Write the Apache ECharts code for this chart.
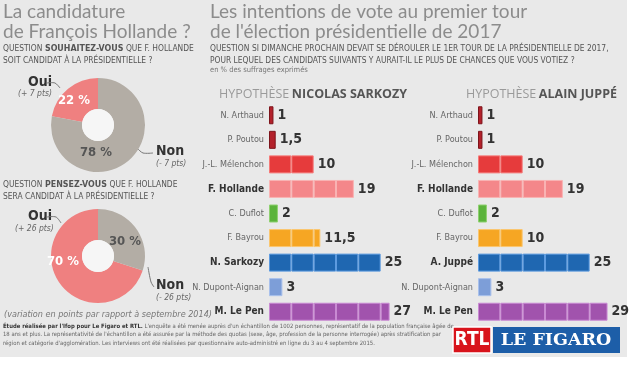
<!DOCTYPE html>
<html><head><meta charset="utf-8">
<script src="https://cdn.jsdelivr.net/npm/echarts@6/dist/echarts.min.js"></script>
<style>html,body{margin:0;padding:0;background:#fff}#c{width:640px;height:368px}</style>
</head><body><div id="c"></div>
<script>
// ---- data ----
const pieLabels = ['Oui', 'Non'];
const pie1Values = [22, 78];
const pie1Var = ['(+ 7 pts)', '(- 7 pts)'];
const pie2Values = [70, 30];
const pie2Var = ['(+ 26 pts)', '(- 26 pts)'];
const candidatesA = ['N. Arthaud', 'P. Poutou', 'J.-L. Mélenchon', 'F. Hollande', 'C. Duflot', 'F. Bayrou', 'N. Sarkozy', 'N. Dupont-Aignan', 'M. Le Pen'];
const valuesA = [1, 1.5, 10, 19, 2, 11.5, 25, 3, 27];
const candidatesB = ['N. Arthaud', 'P. Poutou', 'J.-L. Mélenchon', 'F. Hollande', 'C. Duflot', 'F. Bayrou', 'A. Juppé', 'N. Dupont-Aignan', 'M. Le Pen'];
const valuesB = [1, 1, 10, 19, 2, 10, 25, 3, 29];
const boldNames = ['F. Hollande', 'N. Sarkozy', 'A. Juppé', 'M. Le Pen'];

// ---- styles ----
const rowColors = ['#b3212b', '#b3212b', '#e63b3c', '#f4878a', '#5bb33b', '#f6a623', '#1f67b1', '#7d9ed8', '#a153ad'];
const rowBorders = ['#7d141b', '#7d141b', '#f57a78', '#f9b3b3', '#8fd071', '#fac66f', '#5d9be0', '#a8c0ec', '#c98ad3'];
const PINK = '#ef8080', GREY = '#b3ada5';
const NARROW = '"Liberation Sans Narrow","DejaVu Sans Condensed",sans-serif';
const TITLE = 'Lato, "Open Sans", sans-serif';

const chart = echarts.init(document.getElementById('c'), null, {renderer: 'canvas'});

function fmt(v) { return String(v).replace('.', ','); }

function chunkSeries(values, gi) {
  const out = [];
  const n = Math.ceil(Math.max(...values) / 5);
  for (let k = 0; k < n; k++) {
    out.push({
      type: 'bar', xAxisIndex: gi, yAxisIndex: gi, stack: 's' + gi, barWidth: 18, silent: true,
      data: values.map((v, i) => {
        const c = Math.max(0, Math.min(5, v - 5 * k));
        return c > 0 ? {value: c, itemStyle: {color: rowColors[i], borderColor: rowBorders[i], borderWidth: 1}} : '-';
      })
    });
  }
  out.push({
    type: 'bar', xAxisIndex: gi, yAxisIndex: gi, barWidth: 18, barGap: '-100%', silent: true, z: 1,
    itemStyle: {color: 'rgba(0,0,0,0)'},
    label: {show: true, position: 'right', distance: 4, formatter: p => fmt(p.value),
      fontFamily: NARROW, fontWeight: 'bold', fontSize: 14, color: '#333'},
    data: values
  });
  return out;
}

function catAxis(names, gi) {
  return {
    type: 'category', gridIndex: gi, data: names, inverse: true,
    axisLine: {show: false}, axisTick: {show: false},
    axisLabel: {
      margin: 5, fontFamily: NARROW, fontSize: 9, color: '#666',
      formatter: v => boldNames.includes(v) ? '{b|' + v + '}' : v,
      rich: {b: {fontFamily: NARROW, fontSize: 10, fontWeight: 'bold', color: '#333'}}
    }
  };
}
function valAxis(gi) {
  return {type: 'value', gridIndex: gi, min: 0, max: 30, show: false, splitLine: {show: false}};
}

function pieSeries(values, center, labelPos) {
  return [{
    type: 'pie', center: center, radius: [16, 47], startAngle: 90, clockwise: false, silent: true,
    data: values.map((v, i) => ({name: pieLabels[i], value: v,
      itemStyle: {color: i === 0 ? PINK : GREY},
      label: {color: i === 0 ? '#fff' : '#555'}})),
    label: {show: true, position: 'inside', formatter: p => p.value + ' %',
      fontFamily: NARROW, fontSize: 13, fontWeight: 'bold'},
    labelLayout: p => ({x: labelPos[p.dataIndex][0], y: labelPos[p.dataIndex][1], align: 'center', verticalAlign: 'middle'}),
    labelLine: {show: false}
  }, {
    type: 'pie', center: center, radius: [0, 16], silent: true, label: {show: false},
    data: [{value: 1, itemStyle: {color: '#f6f6f6'}}]
  }];
}

function txt(x, y, t, style) {
  return {type: 'text', left: x, top: y, silent: true, style: Object.assign({text: t, fill: '#555', fontFamily: NARROW, fontSize: 9}, style)};
}
function line(points) {
  return {type: 'polyline', silent: true, shape: {points: points, smooth: 0.3}, style: {stroke: '#777', lineWidth: 1, fill: null}};
}

const qRich = {
  q: {fontFamily: NARROW, fontSize: 8.4, color: '#8a8a8a'},
  b: {fontFamily: NARROW, fontSize: 8.8, fontWeight: 'bold', color: '#222'},
  n: {fontFamily: NARROW, fontSize: 8.4, color: '#444'}
};
const hRich = {
  h: {fontFamily: '"Open Sans",sans-serif', fontSize: 12.5, fill: '#9a9a9a'},
  n: {fontFamily: '"Open Sans",sans-serif', fontSize: 12.5, fontWeight: 'bold', fill: '#555'}
};

const option = {
  animation: false,
  backgroundColor: '#ffffff',
  graphic: [
    {type: 'rect', shape: {x: 0, y: 0, width: 627, height: 357}, style: {fill: '#e9e9e9'}, z: -10, silent: true},
    // Left titles
    txt(3, 2, 'La candidature\nde François Hollande ?', {fontFamily: TITLE, fontSize: 19, fill: '#8c8c8c', lineHeight: 20}),
    txt(3, 43, '{q|QUESTION} {b|SOUHAITEZ-VOUS} {n|QUE F. HOLLANDE}\n{n|SOIT CANDIDAT À LA PRÉSIDENTIELLE ?}', {rich: qRich, lineHeight: 12}),
    txt(3, 179, '{q|QUESTION} {b|PENSEZ-VOUS} {n|QUE F. HOLLANDE}\n{n|SERA CANDIDAT À LA PRÉSIDENTIELLE ?}', {rich: qRich, lineHeight: 12}),
    // pie 1 legends
    txt(28, 75, pieLabels[0], {fontSize: 14, fontWeight: 'bold', fill: '#333'}),
    txt(18, 89, pie1Var[0], {fontSize: 8.5, fontStyle: 'italic', fill: '#666'}),
    line([[47, 83], [55, 83], [60, 88]]),
    txt(156, 144, pieLabels[1], {fontSize: 14, fontWeight: 'bold', fill: '#333'}),
    txt(156, 159, pie1Var[1], {fontSize: 8.5, fontStyle: 'italic', fill: '#666'}),
    line([[138, 149], [143, 153], [153, 153]]),
    // pie 2 legends
    txt(28, 209, pieLabels[0], {fontSize: 14, fontWeight: 'bold', fill: '#333'}),
    txt(15, 224, pie2Var[0], {fontSize: 8.5, fontStyle: 'italic', fill: '#666'}),
    line([[47, 217], [56, 217], [61, 223]]),
    txt(156, 278, pieLabels[1], {fontSize: 14, fontWeight: 'bold', fill: '#333'}),
    txt(156, 293, pie2Var[1], {fontSize: 8.5, fontStyle: 'italic', fill: '#666'}),
    line([[148, 267], [151, 282], [154, 287]]),
    // Footer left
    txt(4, 310, '(variation en points par rapport à septembre 2014)', {fontSize: 9, fontStyle: 'italic', fill: '#777'}),
    txt(3, 322, "{b|Étude réalisée par l'Ifop pour Le Figaro et RTL.} L'enquête a été menée auprès d'un échantillon de 1002 personnes, représentatif de la population française âgée de\n18 ans et plus. La représentativité de l'échantillon a été assurée par la méthode des quotas (sexe, âge, profession de la personne interrogée) après stratification par\nrégion et catégorie d'agglomération. Les interviews ont été réalisées par questionnaire auto-administré en ligne du 3 au 4 septembre 2015.",
      {fontSize: 5.9, fill: '#666', lineHeight: 8.5, rich: {b: {fontFamily: NARROW, fontSize: 5.9, fontWeight: 'bold', fill: '#333'}}}),
    // Right titles
    txt(210, 2, "Les intentions de vote au premier tour\nde l'élection présidentielle de 2017", {fontFamily: TITLE, fontSize: 19, fill: '#8c8c8c', lineHeight: 20}),
    txt(210, 43, '{q|QUESTION} {n|SI DIMANCHE PROCHAIN DEVAIT SE DÉROULER LE 1ER TOUR DE LA PRÉSIDENTIELLE DE 2017,}\n{n|POUR LEQUEL DES CANDIDATS SUIVANTS Y AURAIT-IL LE PLUS DE CHANCES QUE VOUS VOTIEZ ?}', {rich: qRich, lineHeight: 12}),
    txt(210, 66, 'en % des suffrages exprimés', {fontSize: 7.5, fill: '#777'}),
    txt(219, 88, '{h|HYPOTHÈSE} {n|NICOLAS SARKOZY}', {rich: hRich}),
    txt(466, 88, '{h|HYPOTHÈSE} {n|ALAIN JUPPÉ}', {rich: hRich}),
    // logos
    {type: 'rect', silent: true, shape: {x: 453, y: 327, width: 38, height: 26}, style: {fill: '#d8141c', stroke: '#fff', lineWidth: 1.5}},
    {type: 'text', silent: true, x: 472, y: 340, style: {text: 'RTL', fill: '#fff', fontFamily: NARROW, fontWeight: 'bold', fontSize: 19, align: 'center', verticalAlign: 'middle'}},
    {type: 'rect', silent: true, shape: {x: 493, y: 327, width: 127, height: 26}, style: {fill: '#1d5ea8'}},
    {type: 'text', silent: true, x: 556, y: 340, style: {text: 'LE FIGARO', fill: '#fff', fontFamily: '"DejaVu Serif",serif', fontWeight: 'bold', fontSize: 17.5, align: 'center', verticalAlign: 'middle'}}
  ],
  grid: [
    {left: 269, top: 103, width: 134, height: 221},
    {left: 478, top: 103, width: 134, height: 221}
  ],
  xAxis: [valAxis(0), valAxis(1)],
  yAxis: [catAxis(candidatesA, 0), catAxis(candidatesB, 1)],
  series: [
    ...pieSeries(pie1Values, [98, 125], [[74, 101], [96, 153]]),
    ...pieSeries(pie2Values, [98, 256], [[63, 262], [125, 242]]),
    ...chunkSeries(valuesA, 0),
    ...chunkSeries(valuesB, 1)
  ]
};
chart.setOption(option);
</script>
</body></html>
